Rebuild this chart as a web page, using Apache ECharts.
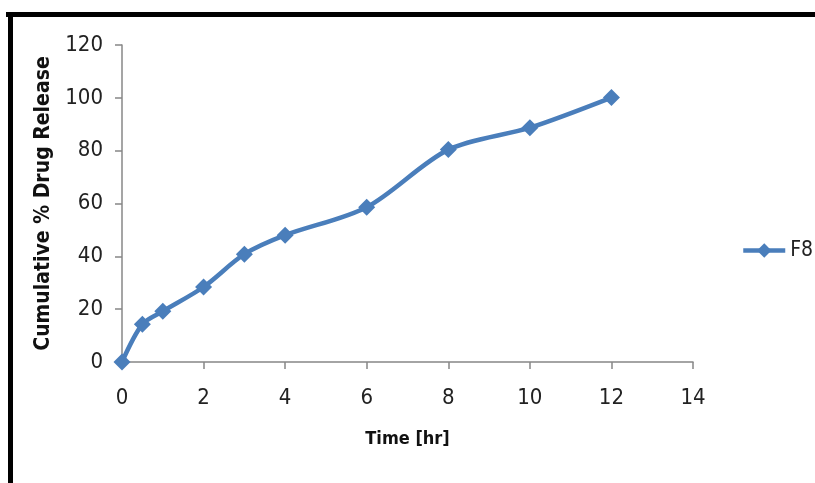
<!DOCTYPE html>
<html>
<head>
<meta charset="utf-8">
<script src="https://cdn.jsdelivr.net/npm/echarts@6/dist/echarts.min.js"></script>
<style>
  html, body { margin: 0; padding: 0; background: #fff; }
  #chart { width: 815px; height: 483px; }
</style>
</head>
<body>
<div id="chart"></div>
<script>
// Release profile of formulation F8
const seriesName = 'F8';
const timeHr = [0, 0.5, 1, 2, 3, 4, 6, 8, 10, 12];
const releasePct = [0, 14.3, 19.2, 28.4, 40.8, 48.0, 58.6, 80.4, 88.7, 100.1];

const xTicks = { min: 0, max: 14, interval: 2 };
const yTicks = { min: 0, max: 120, interval: 20 };

const tickFont = '"Liberation Sans Narrow", "DejaVu Sans Condensed", "Liberation Sans", sans-serif';
const axisGrey = '#878787';
const lineBlue = '#4A7EBB';

const chart = echarts.init(document.getElementById('chart'), null, { renderer: 'canvas' });

chart.setOption({
  backgroundColor: '#ffffff',
  animation: false,
  grid: { left: 122, right: 122, top: 45, bottom: 121 },
  legend: {
    left: 736,
    top: 235,
    itemWidth: 42,
    itemHeight: 18,
    itemGap: 4,
    lineStyle: { width: 4.5, color: lineBlue },
    itemStyle: { color: lineBlue },
    textStyle: { fontFamily: tickFont, fontSize: 21, color: '#222' },
    data: [seriesName]
  },
  xAxis: {
    type: 'value',
    min: xTicks.min, max: xTicks.max, interval: xTicks.interval,
    name: 'Time [hr]',
    nameLocation: 'middle',
    nameGap: 68,
    nameTextStyle: { fontFamily: tickFont, fontWeight: 'bold', fontSize: 18, color: '#111' },
    axisLine: { lineStyle: { color: axisGrey, width: 1.5 } },
    axisTick: { show: true, inside: false, length: 7, lineStyle: { color: axisGrey, width: 1.5 } },
    axisLabel: { fontFamily: tickFont, fontSize: 22, color: '#222', margin: 25 },
    splitLine: { show: false }
  },
  yAxis: {
    type: 'value',
    min: yTicks.min, max: yTicks.max, interval: yTicks.interval,
    name: 'Cumulative % Drug Release',
    nameLocation: 'middle',
    nameGap: 60,
    nameRotate: 90,
    nameTextStyle: { fontFamily: tickFont, fontWeight: 'bold', fontSize: 21, color: '#111' },
    axisLine: { show: true, lineStyle: { color: axisGrey, width: 1.5 } },
    axisTick: { show: true, inside: false, length: 7, lineStyle: { color: axisGrey, width: 1.5 } },
    axisLabel: { fontFamily: tickFont, fontSize: 22, color: '#222', margin: 19 },
    splitLine: { show: false }
  },
  series: [{
    name: seriesName,
    type: 'line',
    data: timeHr.map((t, i) => [t, releasePct[i]]),
    smooth: 0.3,
    symbol: 'diamond',
    symbolSize: 17,
    lineStyle: { color: lineBlue, width: 4.5 },
    itemStyle: { color: lineBlue },
    z: 3
  }],
  graphic: [
    { type: 'rect', shape: { x: 6, y: 12, width: 809, height: 5 }, style: { fill: '#000' } },
    { type: 'rect', shape: { x: 8, y: 12, width: 5, height: 471 }, style: { fill: '#000' } }
  ]
});
</script>
</body>
</html>
